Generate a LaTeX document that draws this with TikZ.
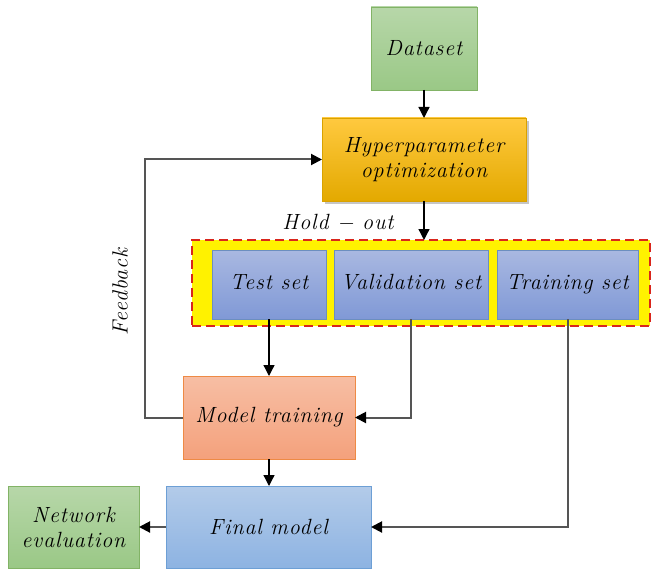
\documentclass[tikz,border=0pt]{standalone}
\usepackage{fontspec}
\usetikzlibrary{arrows.meta,shadows}

\newfontfamily\boxfont{Latin Modern Roman}[LetterSpace=4]

\definecolor{greenTop}{HTML}{B7D7A9}
\definecolor{greenBot}{HTML}{9AC886}
\definecolor{greenEdge}{HTML}{82B366}
\definecolor{orangeTop}{HTML}{FFC93F}
\definecolor{orangeBot}{HTML}{E3A900}
\definecolor{orangeEdge}{HTML}{D9A200}
\definecolor{blueTop}{HTML}{A9B8E1}
\definecolor{blueBot}{HTML}{8099D6}
\definecolor{blueEdge}{HTML}{6C8EBF}
\definecolor{salmonTop}{HTML}{F7BEA4}
\definecolor{salmonBot}{HTML}{F4A17C}
\definecolor{salmonEdge}{HTML}{EE8A45}
\definecolor{skyTop}{HTML}{B3CBE9}
\definecolor{skyBot}{HTML}{8DB3E2}
\definecolor{skyEdge}{HTML}{6D9FD5}
\definecolor{lineGray}{HTML}{555555}
\definecolor{dashRed}{HTML}{D9261C}

\tikzset{
  box/.style={rectangle, inner sep=0pt, outer sep=0pt, line width=0.9pt,
    align=center, text=black,
    font=\boxfont\fontsize{22}{25}\selectfont\itshape, shading=axis},
  greenbox/.style={box, draw=greenEdge, top color=greenTop, bottom color=greenBot},
  orangebox/.style={box, draw=orangeEdge, top color=orangeTop, bottom color=orangeBot,
    drop shadow={shadow xshift=2.5pt, shadow yshift=-3pt, opacity=0.45}},
  bluebox/.style={box, draw=blueEdge, top color=blueTop, bottom color=blueBot,
    text height=15pt, text depth=5pt},
  salmonbox/.style={box, draw=salmonEdge, top color=salmonTop, bottom color=salmonBot},
  skybox/.style={box, draw=skyEdge, top color=skyTop, bottom color=skyBot},
  blackconn/.style={line width=1.3pt, draw=black,
    -{Triangle[length=11pt,width=11pt,color=black]}},
  grayconn/.style={line width=2pt, draw=lineGray,
    -{Triangle[length=11pt,width=11pt,color=black]}},
  lbl/.style={font=\boxfont\fontsize{22}{25}\selectfont\itshape, text=black, inner sep=0pt}
}

\begin{document}
\begin{tikzpicture}[x=1pt,y=-1pt]
\useasboundingbox (0,0) rectangle (652,569);

% hold-out container
\node[rectangle, inner sep=0pt, outer sep=0pt, fill=yellow, draw=dashRed,
  line width=2pt, dash pattern=on 9pt off 5pt,
  minimum width=458pt, minimum height=86pt] (holdbox) at (421,283) {};

% boxes
\node[greenbox, minimum width=106pt, minimum height=83pt] (data) at (424,48.5) {Dataset};
\node[orangebox, minimum width=204pt, minimum height=83pt] (hyper) at (424,159.5)
  {Hyperparameter\\optimization};
\node[bluebox, minimum width=114pt, minimum height=69pt] (test) at (269,284.5) {Test set};
\node[bluebox, minimum width=154pt, minimum height=69pt] (val) at (411,284.5) {Validation set};
\node[bluebox, minimum width=141pt, minimum height=69pt] (train) at (567.5,284.5) {Training set};
\node[salmonbox, minimum width=172pt, minimum height=83pt] (model) at (269,417.5) {Model training};
\node[skybox, minimum width=205pt, minimum height=82pt] (final) at (268.5,527) {Final model};
\node[greenbox, minimum width=131pt, minimum height=82pt] (neteval) at (73.5,527)
  {Network\\evaluation};

% labels
\node[lbl, rotate=90] (fblabel) at (120,292) {Feedback};
\node[lbl] (holdlabel) at (338,222) {Hold − out};

% connectors
\coordinate (fb) at (145,159.5);
\draw[blackconn] (data.south) -- (hyper.north);
\draw[blackconn] (hyper.south) -- (hyper.south |- holdbox.north);
\draw[blackconn] (test.south) -- (model.north);
\draw[grayconn] (val.south) |- (model.east);
\draw[grayconn] (train.south) |- (final.east);
\draw[blackconn] (model.south) -- (model.south |- final.north);
\draw[grayconn] (final.west) -- (neteval.east);
\draw[grayconn] (model.west) -| (fb) -- (hyper.west);
\end{tikzpicture}
\end{document}
